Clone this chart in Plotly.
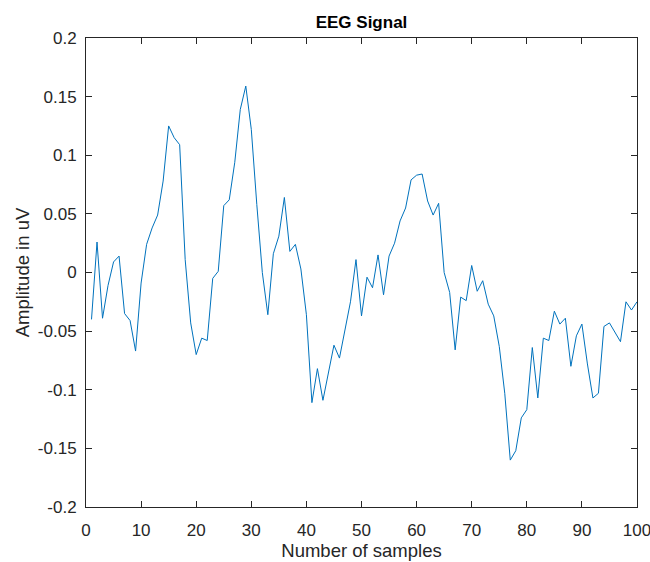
import plotly.graph_objects as go

samples = list(range(1, 101))
amplitude = [
    -0.040, 0.026, -0.039, -0.011, 0.009, 0.014, -0.035, -0.041, -0.067, -0.009,
    0.024, 0.038, 0.049, 0.078, 0.125, 0.115, 0.109, 0.011, -0.043, -0.070,
    -0.056, -0.058, -0.005, 0.001, 0.057, 0.062, 0.094, 0.139, 0.159, 0.122,
    0.058, 0.000, -0.036, 0.016, 0.031, 0.064, 0.018, 0.024, 0.003, -0.036,
    -0.111, -0.082, -0.109, -0.085, -0.062, -0.073, -0.048, -0.025, 0.011, -0.037,
    -0.004, -0.013, 0.015, -0.019, 0.014, 0.025, 0.044, 0.055, 0.079, 0.083,
    0.084, 0.061, 0.049, 0.059, 0.000, -0.017, -0.066, -0.021, -0.024, 0.006,
    -0.016, -0.007, -0.027, -0.037, -0.063, -0.103, -0.160, -0.152, -0.124, -0.117,
    -0.064, -0.107, -0.056, -0.058, -0.033, -0.044, -0.039, -0.080, -0.054, -0.044,
    -0.078, -0.107, -0.103, -0.046, -0.043, -0.051, -0.059, -0.025, -0.032, -0.025,
]

x_ticks = list(range(0, 101, 10))
y_ticks = [0.2, 0.15, 0.1, 0.05, 0, -0.05, -0.1, -0.15, -0.2]
y_ticktext = ["0.2", "0.15", "0.1", "0.05", "0", "-0.05", "-0.1", "-0.15", "-0.2"]

axis_color = "#262626"
font_family = "Liberation Sans, Arial, sans-serif"

fig = go.Figure()
fig.add_trace(go.Scatter(
    x=samples, y=amplitude, mode="lines",
    line=dict(color="#0072BD", width=1),
    showlegend=False,
))

fig.update_layout(
    width=650, height=562,
    margin=dict(l=86, r=13, t=38, b=55),
    paper_bgcolor="white", plot_bgcolor="white",
    font=dict(family=font_family, color=axis_color, size=17),
    title=dict(text="<b>EEG Signal</b>", x=0.5, xanchor="center", xref="paper",
               y=1 - 22 / 562, yanchor="middle", yref="container",
               font=dict(size=17, color="black", family=font_family)),
)

fig.update_xaxes(
    range=[0, 100], tickvals=x_ticks, ticktext=[str(v) for v in x_ticks],
    ticks="inside", ticklen=6, tickwidth=1, tickcolor=axis_color,
    showline=True, linecolor=axis_color, linewidth=1, mirror="ticks",
    showgrid=False, zeroline=False, automargin=False,
    ticklabeloverflow="allow", ticklabelstandoff=8,
    tickfont=dict(size=17, color=axis_color),
    title=dict(text="Number of samples", font=dict(size=18.5, color=axis_color), standoff=4),
)
fig.update_yaxes(
    range=[-0.2, 0.2], tickvals=y_ticks, ticktext=y_ticktext,
    ticks="inside", ticklen=6, tickwidth=1, tickcolor=axis_color,
    showline=True, linecolor=axis_color, linewidth=1, mirror="ticks",
    showgrid=False, zeroline=False, automargin=False,
    ticklabeloverflow="allow", ticklabelstandoff=5,
    tickfont=dict(size=17, color=axis_color),
    title=dict(text="Amplitude in uV", font=dict(size=18.5, color=axis_color), standoff=3),
)

fig.write_html("out.html", config={"displayModeBar": False},
               post_script="document.body.style.margin='0';")
